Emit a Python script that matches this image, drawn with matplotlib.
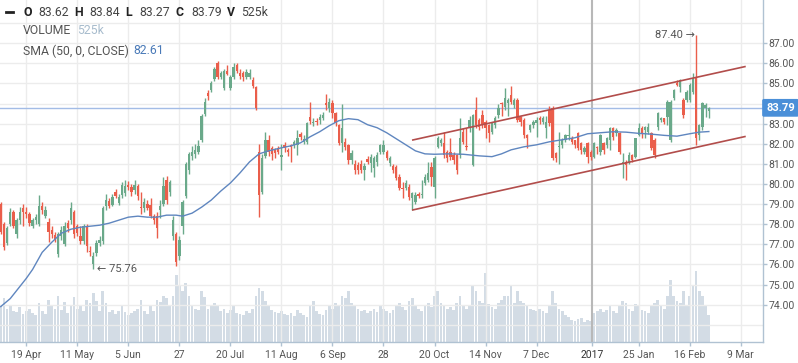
import numpy as np
import matplotlib.pyplot as plt
import matplotlib.transforms as mtransforms

plt.rcParams['font.family'] = ['Roboto', 'DejaVu Sans']

# daily bars (index 0 = first visible bar)
opens = [
    79.0, 78.0, 77.05, 78.0, 78.6, 77.5, 78.2, 78.8, 78.6, 78.5,
    77.9, 78.2, 78.0, 78.9, 78.4, 78.1, 77.7, 77.45, 76.5, 77.4,
    77.0, 78.05, 78.2, 78.6, 77.9, 77.4, 77.15, 77.9, 76.65, 76.0,
    76.55, 77.05, 77.15, 78.9, 79.15, 78.95, 79.6, 79.05, 79.45, 79.55,
    79.95, 79.85, 79.7, 79.9, 78.85, 78.8, 79.0, 78.95, 78.4, 78.4,
    78.7, 79.0, 80.2, 79.6, 77.4, 77.5, 76.4, 77.9, 79.4, 80.7,
    81.4, 81.5, 81.6, 82.2, 83.5, 84.55, 84.7, 85.2, 86.0, 85.3,
    84.8, 85.6, 84.8, 85.3, 85.9, 85.5, 85.5, 85.3, 85.3, 85.15,
    84.85, 81.6, 79.6, 81.4, 82.2, 81.8, 81.7, 81.8, 81.36, 81.94,
    81.69, 81.94, 81.94, 81.94, 82.49, 82.11, 82.11, 83.35, 83.05, 83.15,
    83.18, 83.27, 84.01, 83.77, 84.01, 83.52, 82.94, 82.02, 82.11, 81.94,
    81.19, 81.0, 80.95, 81.0, 80.7, 81.24, 81.03, 80.78, 81.11, 81.61,
    81.61, 81.61, 81.03, 80.9, 80.86, 80.37, 79.82, 79.78, 79.87, 79.29,
    79.1, 79.5, 79.45, 80.03, 80.2, 80.86, 79.87, 81.86, 82.02, 82.02,
    81.6, 81.6, 81.45, 81.44, 81.44, 82.6, 81.9, 82.77, 80.95, 83.68,
    83.18, 83.44, 83.1, 82.94, 82.6, 82.94, 83.44, 84.05, 83.85, 84.01,
    84.43, 83.93, 84.2, 83.35, 83.18, 82.44, 82.69, 82.94, 83.02, 83.27,
    83.1, 82.77, 83.68, 83.77, 81.53, 81.86, 81.94, 82.19, 82.4, 82.27,
    82.19, 82.52, 82.02, 81.61, 82.02, 81.61, 81.36, 81.86, 81.61, 82.02,
    81.94, 82.19, 82.77, 82.52, 82.52, 81.03, 81.11, 81.11, 81.44, 81.36,
    82.44, 82.77, 82.69, 82.6, 82.52, 82.19, 82.85, 83.18, 83.27, 83.35,
    82.19, 84.26, 85.01, 84.84, 84.18, 84.18, 84.18, 84.59, 85.26, 82.44,
    82.85, 83.76, 83.62]
highs = [
    79.1, 78.1, 77.9, 78.8, 78.7, 78.3, 78.85, 79.0, 78.85, 78.6,
    78.3, 78.5, 79.45, 79.1, 78.9, 78.3, 77.9, 77.6, 77.6, 77.9,
    78.1, 78.2, 79.1, 78.7, 78.0, 77.9, 78.0, 78.0, 76.9, 76.6,
    77.2, 77.4, 78.9, 79.5, 79.3, 79.5, 79.75, 79.5, 80.1, 80.2,
    80.15, 80.0, 80.2, 80.0, 79.6, 79.3, 79.2, 79.3, 78.5, 78.6,
    79.2, 80.35, 80.4, 80.2, 78.4, 77.6, 77.4, 79.2, 81.1, 81.6,
    81.9, 82.0, 82.2, 83.5, 84.3, 84.7, 85.1, 85.8, 86.1, 85.6,
    85.7, 85.9, 85.4, 86.0, 86.0, 85.7, 85.6, 85.7, 85.7, 85.3,
    84.9, 82.0, 81.5, 82.6, 82.45, 81.9, 81.8, 81.9, 82.0, 82.1,
    81.8, 82.0, 82.2, 82.7, 82.6, 82.44, 83.1, 84.1, 83.3, 83.3,
    83.5, 83.6, 84.5, 84.27, 84.2, 83.6, 83.0, 84.0, 82.3, 82.0,
    81.7, 81.2, 81.1, 81.2, 81.05, 81.4, 81.5, 81.4, 81.6, 82.0,
    82.2, 81.7, 81.4, 81.0, 80.95, 80.5, 80.1, 80.2, 80.0, 79.6,
    79.6, 79.6, 80.2, 80.5, 81.1, 81.1, 81.4, 82.4, 82.3, 82.6,
    81.7, 82.3, 81.6, 81.5, 83.3, 82.8, 82.8, 83.4, 83.5, 84.35,
    83.3, 83.7, 83.2, 83.0, 83.1, 83.4, 84.0, 84.1, 84.8, 84.3,
    84.9, 84.3, 84.3, 83.4, 83.3, 82.5, 83.0, 83.2, 83.35, 83.4,
    83.4, 83.4, 83.9, 83.9, 81.6, 82.6, 82.3, 82.5, 83.0, 82.4,
    82.2, 82.6, 82.1, 81.9, 82.1, 81.7, 82.1, 81.9, 82.5, 82.1,
    82.35, 82.85, 82.85, 82.8, 82.6, 81.53, 81.2, 81.6, 81.5, 82.3,
    83.02, 82.9, 82.9, 83.02, 82.6, 82.3, 83.6, 83.35, 83.3, 84.2,
    84.2, 84.75, 85.17, 85.2, 84.3, 84.7, 85.0, 85.5, 87.40, 83.0,
    84.1, 84.01, 83.84]
lows = [
    77.5, 76.7, 76.95, 77.9, 77.8, 77.3, 78.0, 77.9, 78.3, 77.9,
    77.8, 78.0, 77.9, 78.5, 78.3, 77.1, 77.3, 77.1, 76.35, 77.2,
    76.9, 77.6, 78.0, 77.3, 77.4, 77.0, 77.0, 76.6, 76.4, 75.76,
    76.4, 76.9, 77.0, 78.7, 78.8, 78.9, 79.3, 78.95, 79.3, 79.4,
    79.7, 79.4, 79.5, 79.2, 78.5, 78.6, 78.7, 78.3, 78.0, 77.3,
    78.3, 78.9, 79.0, 79.4, 77.2, 75.9, 76.2, 77.5, 79.3, 80.5,
    81.2, 81.3, 81.5, 82.1, 83.4, 84.2, 84.6, 85.1, 85.2, 85.2,
    84.7, 85.4, 84.7, 85.2, 85.5, 85.2, 85.1, 85.2, 85.2, 84.8,
    83.7, 78.35, 79.5, 81.3, 81.4, 81.2, 81.3, 81.5, 80.7, 81.6,
    81.4, 81.1, 81.8, 81.45, 82.2, 82.0, 82.0, 83.0, 82.9, 82.95,
    83.0, 83.2, 83.7, 83.6, 83.3, 82.9, 81.95, 81.6, 81.7, 81.0,
    81.0, 80.5, 80.5, 80.55, 80.2, 81.0, 80.6, 80.37, 80.9, 81.5,
    81.5, 81.2, 80.9, 80.55, 80.2, 79.7, 79.3, 79.7, 79.2, 78.7,
    79.0, 79.3, 79.3, 79.95, 80.1, 79.9, 79.3, 81.8, 81.9, 81.3,
    81.1, 81.2, 81.0, 80.5, 81.3, 82.0, 81.7, 82.6, 80.9, 82.8,
    82.7, 82.8, 82.3, 82.1, 82.5, 82.8, 83.3, 83.4, 83.7, 83.4,
    84.0, 83.8, 83.1, 82.9, 82.3, 81.8, 82.6, 82.8, 82.35, 83.0,
    83.0, 82.3, 82.9, 81.2, 81.1, 81.0, 81.8, 82.1, 82.2, 82.0,
    81.8, 81.7, 81.5, 81.5, 81.03, 81.2, 81.3, 81.5, 81.44, 81.5,
    81.8, 81.69, 82.2, 82.4, 81.5, 80.28, 80.2, 81.0, 81.1, 81.3,
    82.4, 82.3, 82.3, 82.5, 81.7, 81.3, 82.7, 83.1, 83.0, 82.93,
    82.1, 84.2, 84.9, 84.6, 83.3, 84.1, 84.1, 84.5, 81.94, 82.2,
    82.7, 83.35, 83.27]
closes = [
    77.6, 76.85, 77.8, 78.6, 77.9, 78.2, 78.6, 78.6, 78.5, 78.05,
    78.2, 78.35, 78.9, 78.7, 78.7, 77.6, 77.5, 77.2, 77.5, 77.7,
    77.9, 77.8, 78.8, 77.5, 77.55, 77.15, 77.9, 76.9, 76.6, 76.4,
    77.05, 77.2, 78.8, 79.2, 78.9, 79.35, 79.4, 79.35, 79.95, 79.9,
    79.85, 79.6, 79.95, 79.4, 78.8, 79.1, 78.8, 78.4, 78.2, 77.8,
    78.9, 79.9, 79.2, 80.1, 78.2, 76.1, 77.2, 79.1, 81.0, 81.5,
    81.6, 81.7, 81.9, 83.4, 84.1, 84.4, 85.0, 85.7, 85.3, 85.5,
    85.6, 85.45, 85.3, 85.8, 85.6, 85.35, 85.3, 85.55, 85.5, 84.9,
    83.77, 79.45, 81.3, 82.2, 81.6, 81.5, 81.55, 81.6, 81.45, 81.78,
    81.6, 81.86, 82.11, 82.27, 82.36, 82.22, 83.05, 83.15, 83.1, 83.1,
    83.35, 83.44, 83.93, 84.1, 83.52, 83.02, 82.02, 82.77, 81.86, 81.19,
    81.53, 80.7, 80.7, 80.72, 80.9, 81.11, 81.36, 81.28, 81.44, 81.94,
    81.94, 81.28, 81.28, 80.7, 80.28, 79.8, 79.75, 80.07, 79.37, 79.54,
    79.45, 79.4, 79.5, 80.37, 80.53, 80.37, 81.28, 82.27, 82.19, 81.44,
    81.28, 81.36, 81.2, 80.7, 82.27, 82.1, 81.85, 83.18, 83.44, 82.94,
    82.85, 82.94, 82.77, 82.52, 83.02, 83.27, 83.77, 83.98, 84.26, 84.18,
    84.1, 84.18, 83.18, 83.1, 82.44, 82.27, 82.94, 83.1, 83.18, 83.18,
    83.27, 83.1, 83.02, 81.28, 81.28, 81.9, 82.19, 82.44, 82.45, 82.1,
    81.94, 81.77, 81.69, 81.77, 81.36, 81.36, 82.02, 81.77, 82.44, 81.69,
    82.27, 82.77, 82.36, 82.69, 81.61, 81.11, 80.95, 81.44, 81.19, 82.27,
    82.77, 82.52, 82.85, 82.85, 81.77, 81.44, 83.52, 83.27, 83.1, 84.1,
    84.1, 84.68, 84.93, 85.17, 83.43, 84.59, 84.93, 85.26, 82.27, 82.93,
    84.01, 83.93, 83.79]
# volume in thousands
volumes = [
    720, 850, 640, 700, 610, 580, 690, 540, 600, 650,
    560, 520, 760, 600, 540, 820, 700, 650, 900, 620,
    780, 560, 700, 880, 640, 700, 600, 820, 750, 960,
    800, 600, 1000, 760, 580, 620, 540, 600, 700, 580,
    520, 560, 600, 640, 820, 600, 540, 700, 600, 820,
    780, 900, 860, 700, 900, 1300, 1100, 1000, 1150, 900,
    700, 640, 620, 1000, 880, 640, 700, 760, 720, 600,
    640, 560, 620, 700, 560, 540, 520, 600, 560, 640,
    900, 1050, 1000, 800, 700, 620, 580, 560, 600, 540,
    520, 560, 500, 620, 560, 520, 480, 700, 800, 600,
    540, 520, 620, 700, 640, 760, 700, 900, 860, 1000,
    760, 700, 640, 600, 620, 560, 600, 640, 580, 700,
    640, 600, 560, 620, 700, 760, 680, 620, 800, 860,
    720, 640, 600, 700, 760, 680, 900, 1000, 760, 700,
    640, 680, 620, 760, 900, 700, 640, 720, 1100, 1000,
    800, 760, 1350, 740, 680, 640, 760, 820, 900, 900,
    1100, 760, 1000, 800, 760, 700, 640, 620, 600, 640,
    600, 560, 700, 1000, 760, 640, 600, 520, 480, 420,
    400, 440, 460, 380, 420, 400, 560, 600, 640, 580,
    620, 700, 600, 560, 700, 800, 760, 640, 600, 740,
    700, 620, 600, 560, 720, 760, 820, 700, 640, 900,
    1200, 900, 800, 760, 1000, 700, 900, 1100, 1380, 1000,
    900, 700, 525]

# SMA(50)
sma_idx = [0, 3, 6, 8, 10, 13, 16, 19, 22, 25, 28, 31, 34, 37, 40, 43, 46, 49,
           52, 55, 57, 60, 63, 66, 69, 72, 75, 78, 81, 84, 88, 91, 94, 97, 100,
           103, 106, 109, 112, 115, 118, 121, 124, 127, 130, 133, 136, 140, 145,
           150, 154, 157, 160, 164, 168, 172, 176, 180, 184, 188, 192, 196, 200,
           204, 208, 212, 216, 219, 222]
sma_val = [73.9, 74.3, 74.9, 75.3, 75.75, 76.6, 77.1, 77.55, 77.75, 77.85, 77.9,
           77.95, 78.05, 78.2, 78.35, 78.4, 78.35, 78.35, 78.45, 78.45, 78.4,
           78.55, 78.85, 79.2, 79.65, 80.05, 80.55, 81.1, 81.5, 81.65, 81.8,
           81.9, 82.05, 82.35, 82.6, 82.9, 83.15, 83.25, 83.2, 82.95, 82.8,
           82.55, 82.25, 81.95, 81.65, 81.5, 81.48, 81.5, 81.48, 81.4, 81.36,
           81.5, 81.7, 81.85, 81.95, 82.1, 82.2, 82.3, 82.5, 82.55, 82.6, 82.58,
           82.52, 82.48, 82.42, 82.38, 82.5, 82.58, 82.61]

# drawn price channel
channel_x = [129.2, 233.3]
channel_upper = [82.19, 85.84]
channel_lower = [78.71, 82.36]

tick_pos = [8, 24, 40, 56, 72, 88, 104, 120, 136, 152, 168, 185.5, 200, 216, 232]
tick_labels = ['19 Apr', '11 May', '5 Jun', '27', '20 Jul', '11 Aug', '6 Sep', '28',
               '20 Oct', '14 Nov', '7 Dec', '2017', '25 Jan', '16 Feb', '9 Mar']
year_pos = 185.5
price_ticks = [74, 75, 76, 77, 78, 79, 80, 81, 82, 83, 85, 86, 87]

GREEN = '#6aa98a'
RED = '#ea5e4b'
AXC = '#b0c2d2'
TXT = '#555555'

W, H = 798, 363
fig = plt.figure(figsize=(W / 100, H / 100), dpi=100)
rect = [0, 21 / H, 763 / W, 342 / H]
axv = fig.add_axes(rect)
ax = fig.add_axes(rect)
ax.set_facecolor('none')

xlim = (-0.22, 238.97)
ax.set_xlim(*xlim)
ax.set_ylim(72.14, 89.154)
axv.set_xlim(*xlim)
axv.set_ylim(0, 6650)
axv.axis('off')

o = np.array(opens)
hi = np.array(highs)
lo = np.array(lows)
c = np.array(closes)
idx = np.arange(len(c))

# volume
axv.bar(idx, volumes, width=0.86, color='#d3dce5', linewidth=0)

# grid
for p in range(73, 89):
    ax.axhline(p, color='#ececec', lw=1, zorder=0)
for t in tick_pos:
    if t != year_pos:
        ax.axvline(t, color='#ececec', lw=1, zorder=0)
ax.axvline(year_pos, color='#b8b8b8', lw=1.5, zorder=1)

# last price line
ax.axhline(c[-1], color='#a3bce6', lw=1, zorder=2)

# candles
cols = np.where(c >= o, GREEN, RED)
ax.vlines(idx, lo, hi, colors=cols, lw=1, zorder=3)
body = np.maximum(np.abs(c - o), 0.05)
ax.bar(idx, body, bottom=np.minimum(o, c), width=0.74, color=cols, linewidth=0, zorder=4)

# SMA
ax.plot(sma_idx, sma_val, color='#5f86bf', lw=1.0, zorder=5)

# channel
ax.plot(channel_x, channel_upper, color='#b24d4b', lw=1.2, zorder=5)
ax.plot(channel_x, channel_lower, color='#b24d4b', lw=1.2, zorder=5)

# hi / lo marks
imax = int(np.argmax(hi))
imin = int(np.argmin(lo))
ax.annotate(f'{hi[imax]:.2f} \u2192', xy=(imax, hi[imax]), xytext=(-1, 0),
            textcoords='offset points', ha='right', va='center', fontsize=8, color=TXT)
ax.annotate(f'\u2190 {lo[imin]:.2f}', xy=(imin, lo[imin]), xytext=(2.5, 0),
            textcoords='offset points', ha='left', va='center', fontsize=8, color=TXT)

# axes styling
for s in ['top', 'left']:
    ax.spines[s].set_visible(False)
for s in ['right', 'bottom']:
    ax.spines[s].set_color(AXC)
    ax.spines[s].set_linewidth(1)
ax.yaxis.tick_right()
ax.set_yticks(price_ticks)
ax.set_yticklabels([f'{v:.2f}' for v in price_ticks])
ax.set_xticks(tick_pos)
ax.set_xticklabels(tick_labels)
ax.tick_params(axis='y', direction='out', length=3, width=1, color=AXC,
               labelcolor=TXT, labelsize=7.5, pad=1)
ax.tick_params(axis='x', direction='out', length=3, width=1, color=AXC,
               labelcolor=TXT, labelsize=7.5, pad=2.5)
for lab in ax.get_xticklabels():
    if lab.get_text() == '2017':
        lab.set_color('#333333')

# last price box
tr = mtransforms.blended_transform_factory(ax.transAxes, ax.transData)
ax.text(1.004, c[-1], f'{c[-1]:.2f}', transform=tr, ha='left', va='center',
        color='white', fontsize=8, fontweight='bold', zorder=10, clip_on=False,
        bbox=dict(boxstyle='round,pad=0.35,rounding_size=0.15', fc='#4a8fd8', ec='none'))


def ftxt(x, y, s, **kw):
    fig.text(x / W, 1 - y / H, s, ha='left', va='center', fontsize=8.8, **kw)


# header
fig.add_artist(plt.Line2D([6 / W, 13 / W], [1 - 12 / H] * 2, color='#222222', lw=2,
                          transform=fig.transFigure))
vals = [o[-1], hi[-1], lo[-1], c[-1]]
for (lx, nx, k, v) in zip([23, 74, 125, 176], [38, 89, 139, 191], 'OHLC', vals):
    ftxt(lx, 12, k, color='#222222', fontweight='bold')
    ftxt(nx, 12, f'{v:.2f}', color='#444444')
ftxt(227, 12, 'V', color='#222222', fontweight='bold')
ftxt(241, 12, f'{volumes[-1]}k', color='#444444')
ftxt(23, 31, 'VOLUME', color=TXT)
ftxt(77, 31, f'{volumes[-1]}k', color='#a8bccd')
ftxt(23, 51, 'SMA (50, 0, CLOSE)', color=TXT)
ftxt(133, 51, f'{sma_val[-1]:.2f}', color='#4a7ab8')

fig.savefig('out.png', dpi=100)
